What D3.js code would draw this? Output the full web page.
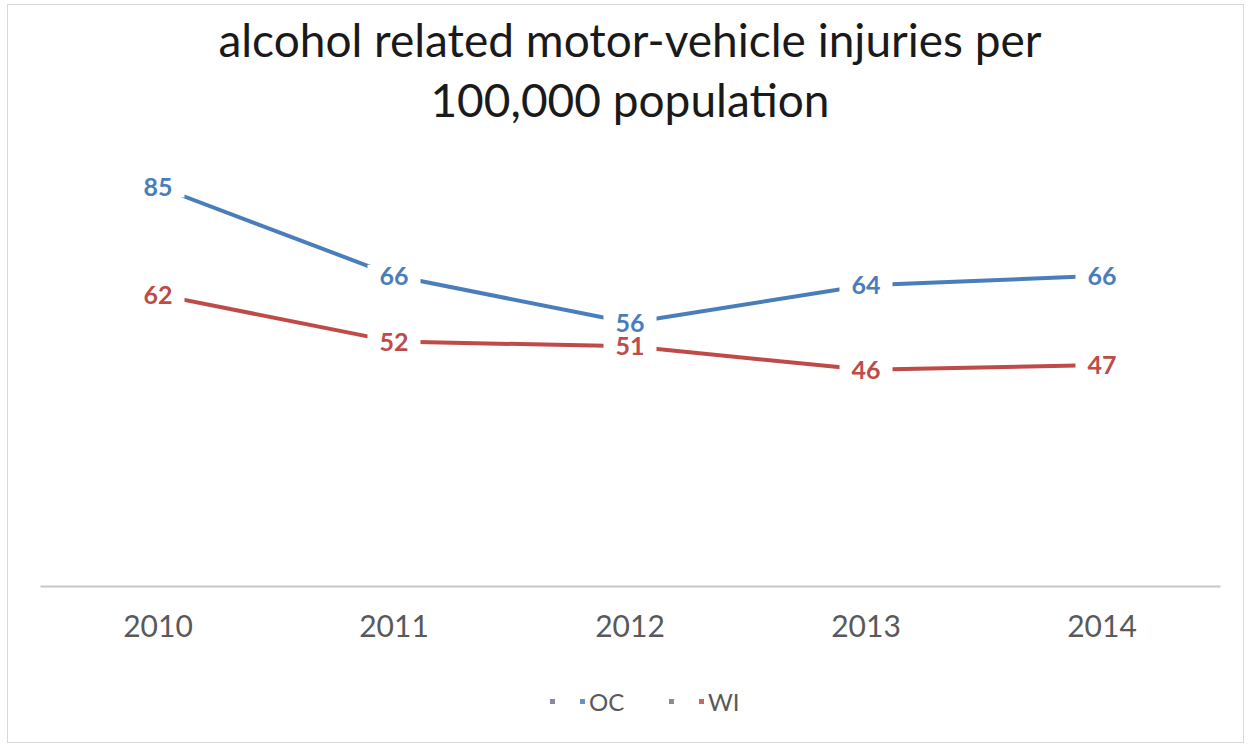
<!DOCTYPE html>
<html>
<head>
<meta charset="utf-8">
<script src="https://cdn.jsdelivr.net/npm/d3@7/dist/d3.min.js"></script>
<style>
  html, body { margin: 0; padding: 0; background: #ffffff; }
  svg { display: block; }
</style>
</head>
<body>
<svg id="chart" width="1251" height="748"></svg>
<script>
// Alcohol related motor-vehicle injuries per 100,000 population, 2010–2014
const years = ["2010", "2011", "2012", "2013", "2014"];
const ocValues = [85, 66, 56, 64, 66];
const wiValues = [62, 52, 51, 46, 47];
const seriesNames = ["OC", "WI"];
const seriesColors = ["#4a7ebb", "#be4b48"];
const titleLines = ["alcohol related motor-vehicle injuries per", "100,000 population"];

const series = [
  { name: seriesNames[0], color: seriesColors[0], values: ocValues },
  { name: seriesNames[1], color: seriesColors[1], values: wiValues }
];

const svg = d3.select("#chart");
const font = "Lato, 'Open Sans', sans-serif";

// chart frame
svg.append("rect")
  .attr("x", 7.5).attr("y", 4.5)
  .attr("width", 1236).attr("height", 738)
  .attr("fill", "#ffffff")
  .attr("stroke", "#d9d9d9")
  .attr("stroke-width", 1);

// title
svg.append("g").selectAll("text")
  .data(titleLines)
  .join("text")
  .attr("x", 630)
  .attr("y", (d, i) => 57 + i * 60)
  .attr("text-anchor", "middle")
  .attr("font-family", font)
  .attr("font-size", 46)
  .attr("fill", "#1a1a1a")
  .text(d => d);

const plot = { left: 40, right: 1220, top: 116, bottom: 586 };

const x = d3.scaleBand()
  .domain(years)
  .range([plot.left, plot.right]);

const y = d3.scaleLinear()
  .domain([0, 100])
  .range([plot.bottom, plot.top]);

const cx = d => x(d) + x.bandwidth() / 2;

// category axis
const xAxis = d3.axisBottom(x).tickSize(0).tickPadding(30);
const gx = svg.append("g")
  .attr("transform", `translate(0,${y(0)})`)
  .call(xAxis);
gx.select(".domain").attr("stroke", "#c8c8c8").attr("stroke-width", 2);
gx.selectAll(".tick text")
  .attr("font-family", font)
  .attr("font-size", 30)
  .attr("fill", "#595959");

// series lines
const line = d3.line()
  .x((v, i) => cx(years[i]))
  .y(v => y(v));

svg.append("g").selectAll("path")
  .data(series)
  .join("path")
  .attr("d", s => line(s.values))
  .attr("fill", "none")
  .attr("stroke", s => s.color)
  .attr("stroke-width", 4)
  .attr("stroke-linejoin", "round");

// data labels centred on each point, on white boxes that mask the line
const labelData = series.flatMap(s =>
  s.values.map((v, i) => ({ v, year: years[i], color: s.color })));

const labelSize = 25;
const boxes = svg.append("g");
const texts = svg.append("g");

texts.selectAll("text")
  .data(labelData)
  .join("text")
  .attr("x", d => cx(d.year))
  .attr("y", d => y(d.v))
  .attr("text-anchor", "middle")
  .attr("dy", "0.36em")
  .attr("font-family", font)
  .attr("font-weight", "bold")
  .attr("font-size", labelSize)
  .attr("fill", d => d.color)
  .text(d => d.v)
  .each(function (d) { d.w = this.getComputedTextLength(); });

boxes.selectAll("rect")
  .data(labelData)
  .join("rect")
  .attr("x", d => cx(d.year) - d.w / 2 - 12)
  .attr("y", d => y(d.v) - 11)
  .attr("width", d => d.w + 24)
  .attr("height", 22)
  .attr("fill", "#ffffff");

// legend
const legend = svg.append("g").attr("transform", "translate(0,702)");
const legendX = [552, 671];
series.forEach((s, k) => {
  const g = legend.append("g").attr("transform", `translate(${legendX[k]},0)`);
  g.append("rect").attr("x", -2).attr("y", -3).attr("width", 5).attr("height", 5)
    .attr("fill", "#8a8a9a");
  g.append("rect").attr("x", 28).attr("y", -3).attr("width", 5).attr("height", 5)
    .attr("fill", s.color).attr("opacity", 0.85);
  g.append("text")
    .attr("x", 37)
    .attr("dy", "0.36em")
    .attr("font-family", font)
    .attr("font-size", 24)
    .attr("fill", "#595959")
    .text(s.name);
});
</script>
</body>
</html>
